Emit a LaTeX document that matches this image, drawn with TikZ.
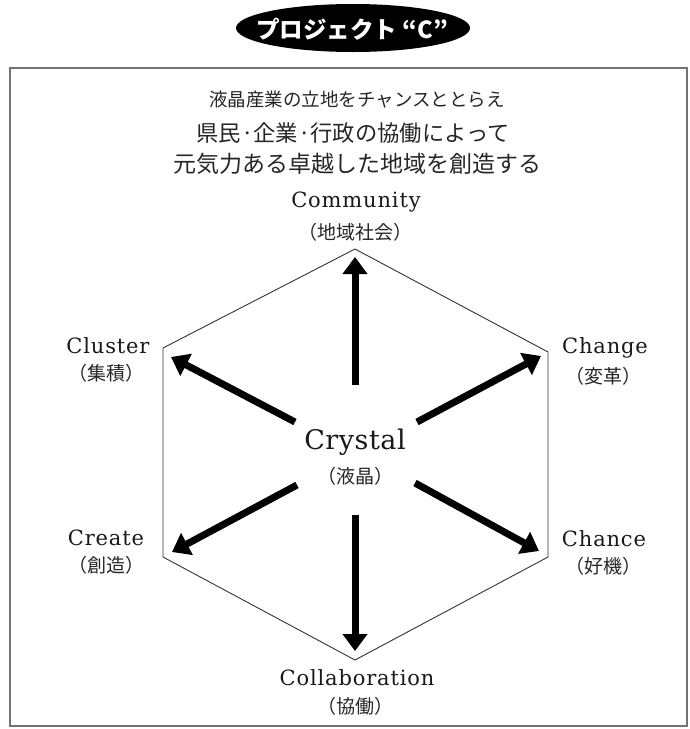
\documentclass[tikz,border=0pt]{standalone}
\usepackage{fontspec}
\usetikzlibrary{arrows.meta,shapes.geometric}
\newfontfamily\jp{Noto Sans CJK JP}
\newfontfamily\lat{DejaVu Serif}[LetterSpace=4]
\newfontfamily\latc{DejaVu Serif}[LetterSpace=2]
\definecolor{framegray}{gray}{0.45}
\tikzset{
  hexline/.style={draw=black!80, line width=0.9pt, line join=miter},
  bigarrow/.style={line width=7pt, -{Triangle[length=17pt,width=24pt]}, black},
  en/.style={inner sep=0pt, anchor=base, font=\lat\fontsize{21}{21}\selectfont, text=black!90},
  ja/.style={inner sep=0pt, font=\jp\fontsize{19}{19}\selectfont, text=black!85},
  lead/.style={inner sep=0pt, text=black!85}
}
\begin{document}
\begin{tikzpicture}[x=1pt,y=-1pt]
\useasboundingbox (0,0) rectangle (690,729);
% title
\node[fill=black, ellipse, minimum width=234pt, minimum height=48pt, inner sep=0pt] (title) at (353,28) {};
\node[inner sep=0pt, text=white, font=\jp\bfseries\fontsize{23.5}{23.5}\selectfont] (titletext) at (352,29) {プロジェクト “C”};
% frame
\draw[framegray, line width=1.6pt] (10,68) rectangle (687,726);
% lead text
\node[lead, font=\jp\fontsize{18.5}{18.5}\selectfont] (l1) at (357,100) {液晶産業の立地をチャンスととらえ};
\node[lead, font=\jp\fontsize{22.3}{22.3}\selectfont] (l2) at (353,133) {県民·企業·行政の協働によって};
\node[lead, font=\jp\fontsize{23}{23}\selectfont] (l3) at (357,164) {元気力ある卓越した地域を創造する};
% hexagon
\coordinate (vT) at (355,249);
\coordinate (vUR) at (548,352);
\coordinate (vLR) at (548,557);
\coordinate (vB) at (355,660);
\coordinate (vLL) at (163,557);
\coordinate (vUL) at (163,348);
\draw[hexline] (vT) -- (vUR) -- (vLR) -- (vB) -- (vLL) -- (vUL) -- cycle;
% center
\node[en, font=\latc\fontsize{27}{27}\selectfont] (crystal) at (355,449) {Crystal};
\node[ja] (crystalja) at (355,476) {（液晶）};
% arrow ends
\coordinate (tU) at (355,385);   \coordinate (hU) at (355,257);
\coordinate (tUL) at (295,422);  \coordinate (hUL) at (171,357);
\coordinate (tUR) at (417,422);  \coordinate (hUR) at (541,356);
\coordinate (tLL) at (297,485);  \coordinate (hLL) at (172,552);
\coordinate (tLR) at (415,483);  \coordinate (hLR) at (539,551);
\coordinate (tD) at (355,515);   \coordinate (hD) at (355,651);
\draw[bigarrow] (tU) -- (hU);
\draw[bigarrow] (tUL) -- (hUL);
\draw[bigarrow] (tUR) -- (hUR);
\draw[bigarrow] (tLL) -- (hLL);
\draw[bigarrow] (tLR) -- (hLR);
\draw[bigarrow] (tD) -- (hD);
% labels
\node[en] (community) at (356,207) {Community};
\node[ja] (communityja) at (355,232) {（地域社会）};
\node[en] (cluster) at (108,353) {Cluster};
\node[ja] (clusterja) at (106,373) {（集積）};
\node[en] (change) at (605,353) {Change};
\node[ja] (changeja) at (603,376) {（変革）};
\node[en] (create) at (106,545) {Create};
\node[ja] (createja) at (106,565) {（創造）};
\node[en] (chance) at (604,546) {Chance};
\node[ja] (chanceja) at (603,566) {（好機）};
\node[en] (collab) at (357,685) {Collaboration};
\node[ja] (collabja) at (355,706) {（協働）};
\end{tikzpicture}
\end{document}
